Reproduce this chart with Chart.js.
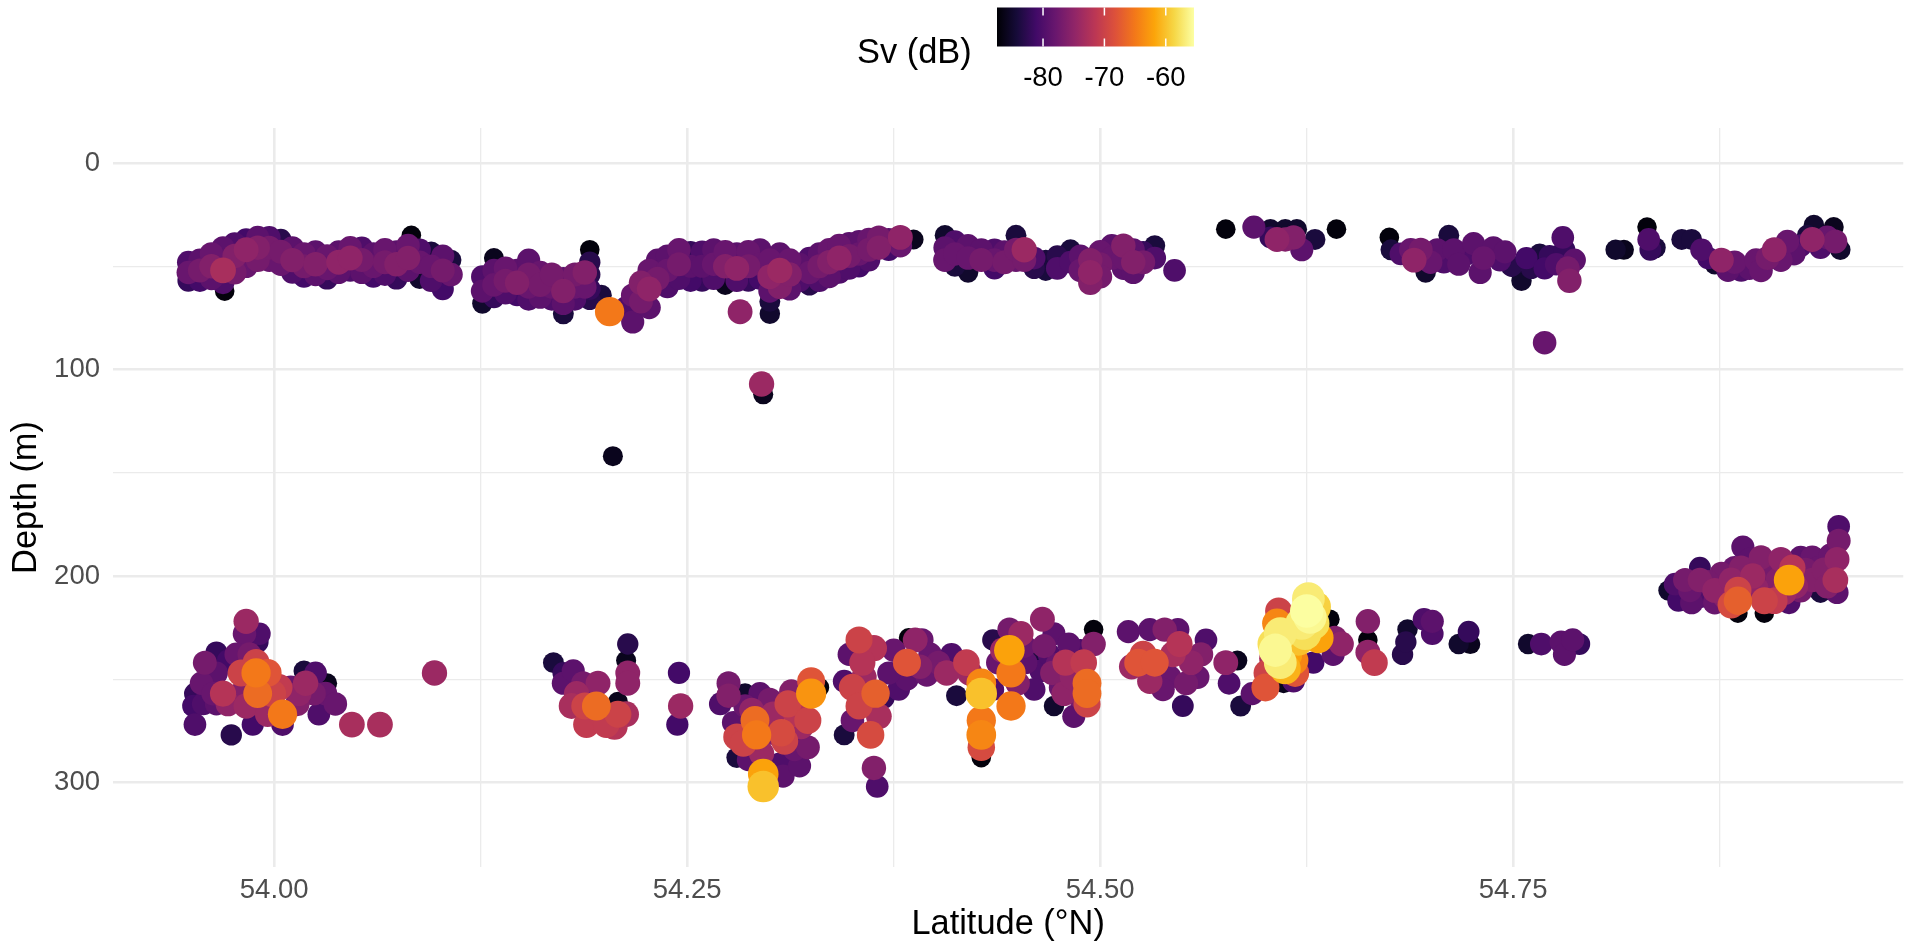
<!DOCTYPE html>
<html>
<head>
<meta charset="utf-8">
<title>Sv along the transect</title>
<script src="https://cdn.jsdelivr.net/npm/chart.js@4.4.0/dist/chart.umd.min.js"></script>
<style>
  html, body { margin: 0; padding: 0; background: #fff; }
  #wrap { width: 1920px; height: 947px; }
</style>
</head>
<body>
<div id="wrap"><canvas id="chart" width="1920" height="947"></canvas></div>
<script>
// Echo detections: latitude (deg N), depth (m) and mean Sv (dB), one entry per school cell
const lat = [
  // shallow layer, 53.95 - 54.11
  53.948, 53.948, 53.948, 53.955, 53.955, 53.955, 53.962, 53.962, 53.962, 53.969, 53.969, 53.969, 53.970,
  53.976, 53.976, 53.976, 53.983, 53.983, 53.983, 53.990, 53.990, 53.990, 53.997, 53.997, 53.997,
  54.004, 54.004, 54.004, 54.011, 54.011, 54.011, 54.018, 54.018, 54.018, 54.025, 54.025, 54.025,
  54.032, 54.032, 54.032, 54.039, 54.039, 54.039, 54.046, 54.046, 54.046, 54.053, 54.053, 54.053,
  54.060, 54.060, 54.060, 54.067, 54.067, 54.067, 54.074, 54.074, 54.074, 54.081, 54.081, 54.081, 54.083,
  54.088, 54.088, 54.088, 54.095, 54.095, 54.095, 54.102, 54.102, 54.102, 54.107, 54.107,
  // shallow layer, 54.12 - 54.23
  54.126, 54.126, 54.126, 54.133, 54.133, 54.133, 54.133, 54.140, 54.140, 54.140, 54.147, 54.147, 54.147,
  54.154, 54.154, 54.154, 54.154, 54.161, 54.161, 54.161, 54.168, 54.168, 54.168, 54.175, 54.175, 54.175, 54.175,
  54.182, 54.182, 54.182, 54.188, 54.188, 54.191, 54.191, 54.191, 54.191, 54.191, 54.198, 54.203, 54.213,
  54.217, 54.217, 54.222, 54.222, 54.227, 54.227, 54.227, 54.232, 54.232,
  // shallow layer, 54.24 - 54.39
  54.238, 54.238, 54.238, 54.245, 54.245, 54.245, 54.252, 54.252, 54.252, 54.259, 54.259, 54.259,
  54.266, 54.266, 54.266, 54.273, 54.273, 54.273, 54.280, 54.280, 54.280, 54.282, 54.287, 54.287, 54.287,
  54.294, 54.294, 54.294, 54.300, 54.300, 54.300, 54.300, 54.300, 54.306, 54.306, 54.306, 54.312, 54.312, 54.312,
  54.318, 54.318, 54.324, 54.324, 54.324, 54.330, 54.330, 54.330, 54.336, 54.336, 54.336, 54.342, 54.342, 54.342,
  54.348, 54.348, 54.348, 54.354, 54.354, 54.354, 54.360, 54.360, 54.360, 54.366, 54.366, 54.372, 54.372,
  54.379, 54.379, 54.387,
  // shallow layer, 54.40 - 54.55
  54.406, 54.406, 54.406, 54.412, 54.412, 54.412, 54.420, 54.420, 54.420, 54.428, 54.428, 54.436, 54.436, 54.436,
  54.442, 54.442, 54.449, 54.449, 54.449, 54.454, 54.454, 54.460, 54.460, 54.467, 54.467, 54.474, 54.474,
  54.482, 54.482, 54.488, 54.488, 54.494, 54.494, 54.494, 54.500, 54.500, 54.500, 54.507, 54.507,
  54.514, 54.514, 54.514, 54.520, 54.520, 54.520, 54.526, 54.526, 54.533, 54.533, 54.545,
  // shallow layer, 54.57 - 54.64
  54.576, 54.593, 54.603, 54.603, 54.607, 54.612, 54.612, 54.617, 54.619, 54.622, 54.630, 54.643,
  // shallow layer, 54.67 - 54.79
  54.675, 54.676, 54.682, 54.688, 54.690, 54.694, 54.697, 54.700, 54.704, 54.708,
  54.711, 54.714, 54.717, 54.722, 54.726, 54.730, 54.732, 54.738, 54.742, 54.745,
  54.749, 54.755, 54.758, 54.761, 54.766, 54.769, 54.772, 54.776, 54.780, 54.781,
  54.783, 54.784, 54.787,
  // shallow layer, 54.81 - 54.95
  54.812, 54.817, 54.831, 54.832, 54.833, 54.836, 54.852, 54.858, 54.864, 54.868,
  54.872, 54.876, 54.880, 54.884, 54.888, 54.893, 54.897, 54.900, 54.904, 54.908,
  54.912, 54.916, 54.920, 54.924, 54.928, 54.931, 54.932, 54.936, 54.940, 54.944,
  54.945, 54.948,
  // single cells below the shallow layer
  54.205, 54.295, 54.296, 54.769,
  // deep layer, 53.95 - 54.10
  53.983, 53.952, 53.974, 53.987, 54.005, 54.047, 54.064, 54.097, 53.958, 53.965,
  53.972, 53.990, 53.991, 53.982, 53.977, 53.985, 53.989, 53.980, 53.996, 53.989,
  53.990, 53.999, 54.005, 53.956, 53.952, 53.957, 53.963, 53.969, 53.972, 53.965,
  53.980, 53.983, 53.987, 53.996, 54.010, 54.003, 54.018, 54.019, 54.025, 54.032,
  54.024, 54.031, 54.037, 54.027, 54.014, 54.015, 53.965, 53.951,
  // deep layer, 54.17 - 54.25
  54.169, 54.175, 54.181, 54.175, 54.183, 54.188, 54.195, 54.189, 54.201, 54.208,
  54.206, 54.196, 54.208, 54.187, 54.180, 54.214, 54.213, 54.214, 54.214, 54.213,
  54.245, 54.246, 54.244,
  // deep layer, 54.27 - 54.33
  54.275, 54.275, 54.285, 54.294, 54.278, 54.280, 54.280, 54.291, 54.292, 54.284,
  54.307, 54.309, 54.295, 54.296, 54.296, 54.308, 54.311, 54.325, 54.325, 54.323,
  54.323, 54.330, 54.302, 54.315, 54.285, 54.302, 54.319, 54.287, 54.306, 54.316,
  54.270, 54.289, 54.300, 54.313, 54.318,
  // deep layer, 54.34 - 54.42
  54.345, 54.350, 54.354, 54.363, 54.364, 54.361, 54.363, 54.365, 54.348, 54.354,
  54.369, 54.375, 54.383, 54.388, 54.392, 54.384, 54.383, 54.397, 54.407, 54.413,
  54.419, 54.345, 54.350, 54.357, 54.402, 54.391,
  54.372, 54.378, 54.395, 54.410, 54.356, 54.366,
  // deep layer, 54.42 - 54.50
  54.428, 54.428, 54.428, 54.428, 54.428, 54.428, 54.421, 54.435, 54.441, 54.445,
  54.446, 54.446, 54.445, 54.452, 54.465, 54.472, 54.459, 54.464, 54.471, 54.472,
  54.479, 54.478, 54.484, 54.492, 54.492, 54.492, 54.496, 54.496, 54.490, 54.438,
  54.454, 54.469, 54.476, 54.483, 54.435,
  54.455, 54.460, 54.466, 54.474, 54.487, 54.481, 54.450, 54.488,
  // deep layer, 54.51 - 54.59
  54.517, 54.523, 54.533, 54.526, 54.530, 54.539, 54.547, 54.548, 54.542, 54.550,
  54.555, 54.564, 54.561, 54.538, 54.576, 54.583, 54.578, 54.585, 54.592, 54.519,
  54.530, 54.552, 54.559, 54.544,
  // deep layer, 54.60 - 54.67
  54.601, 54.600, 54.608, 54.607, 54.605, 54.609, 54.611, 54.625, 54.622, 54.620,
  54.617, 54.617, 54.629, 54.632, 54.639, 54.642, 54.646, 54.629, 54.641, 54.662,
  54.662, 54.662, 54.666, 54.626, 54.613, 54.615, 54.618, 54.604,
  54.606, 54.609, 54.627, 54.624, 54.630, 54.612,
  // deep layer, 54.68 - 54.79
  54.683, 54.685, 54.686, 54.696, 54.701, 54.701, 54.717, 54.723, 54.724, 54.759,
  54.767, 54.779, 54.781, 54.786, 54.790,
  // deep layer, 54.84 - 54.95
  54.844, 54.850, 54.854, 54.863, 54.863, 54.872, 54.872, 54.882, 54.886, 54.886,
  54.886, 54.889, 54.888, 54.900, 54.902, 54.902, 54.917, 54.917, 54.919, 54.910,
  54.931, 54.933, 54.936, 54.945, 54.946, 54.947, 54.947, 54.946, 54.924, 54.912,
  54.905, 54.857, 54.876, 54.895, 54.931, 54.938, 54.864, 54.893, 54.924,
  54.848, 54.858, 54.868, 54.878, 54.884, 54.897, 54.907, 54.914, 54.921, 54.927,
  54.935, 54.940, 54.942, 54.882, 54.908
];

const depth = [
  // shallow layer, 53.95 - 54.11
  48, 53, 57, 47, 52, 57, 44, 50, 56, 41, 52, 58, 62,
  39, 45, 53, 37, 42, 50, 36, 41, 47, 36, 41, 47,
  37, 43, 49, 41, 47, 53, 44, 50, 55, 43, 49, 54,
  45, 51, 56, 43, 48, 53, 41, 46, 52, 41, 47, 53,
  44, 50, 55, 42, 48, 54, 43, 49, 56, 40, 46, 52, 35,
  42, 48, 56, 43, 50, 57, 45, 52, 61, 47, 54,
  // shallow layer, 54.12 - 54.23
  55, 62, 68, 46, 52, 59, 65, 51, 57, 63, 52, 58, 64,
  47, 54, 60, 66, 53, 59, 65, 54, 60, 66, 56, 62, 68, 73,
  54, 60, 66, 53, 60, 42, 48, 54, 61, 66, 64, 72, 70,
  77, 64, 58, 67, 52, 61, 70, 47, 56,
  // shallow layer, 54.24 - 54.39
  45, 52, 60, 42, 49, 56, 43, 50, 57, 43, 50, 57,
  42, 49, 56, 43, 50, 59, 44, 51, 57, 72, 43, 50, 57,
  42, 49, 56, 47, 55, 62, 67, 73, 44, 52, 60, 47, 54, 61,
  49, 57, 46, 53, 59, 44, 50, 57, 42, 48, 55, 40, 46, 53,
  39, 45, 51, 38, 44, 50, 37, 42, 47, 36, 41, 37, 42,
  36, 40, 37,
  // shallow layer, 54.40 - 54.55
  35, 41, 47, 38, 44, 50, 40, 46, 53, 42, 47, 42, 47, 51,
  43, 48, 35, 42, 47, 42, 47, 46, 51, 47, 52, 45, 51,
  42, 48, 45, 52, 47, 53, 58, 43, 49, 55, 40, 46,
  40, 46, 51, 42, 48, 53, 43, 48, 40, 46, 52,
  // shallow layer, 54.57 - 54.64
  32, 31, 32, 36, 37, 32, 37, 36, 32, 42, 37, 32,
  // shallow layer, 54.67 - 54.79
  36, 42, 44, 42, 47, 42, 53, 48, 42, 48,
  35, 42, 49, 44, 39, 53, 46, 41, 47, 43,
  50, 57, 46, 51, 44, 51, 45, 49, 36, 42,
  51, 57, 47,
  // shallow layer, 54.81 - 54.95
  42, 42, 31, 37, 42, 41, 37, 37, 42, 46,
  49, 47, 52, 48, 52, 51, 47, 52, 46, 42,
  47, 38, 44, 40, 35, 37, 30, 41, 36, 31,
  38, 42,
  // single cells below the shallow layer
  142, 107, 112, 87,
  // deep layer, 53.95 - 54.10
  222, 272, 277, 272, 272, 272, 272, 247, 242, 237,
  241, 232, 228, 228, 238, 238, 242, 247, 247, 247,
  257, 257, 267, 252, 257, 262, 257, 257, 262, 262,
  257, 263, 267, 267, 254, 254, 246, 252, 247, 252,
  257, 257, 262, 267, 262, 257, 247, 263,
  // deep layer, 54.17 - 54.25
  242, 252, 246, 247, 257, 263, 263, 272, 272, 267,
  273, 252, 261, 252, 263, 233, 241, 247, 252, 267,
  247, 263, 272,
  // deep layer, 54.27 - 54.33
  252, 258, 257, 257, 271, 278, 288, 270, 277, 281,
  276, 280, 286, 296, 302, 297, 262, 257, 251, 270,
  283, 254, 267, 284, 263, 276, 273, 289, 291, 267,
  262, 265, 260, 256, 292,
  // deep layer, 54.34 - 54.42
  277, 254, 231, 235, 257, 277, 293, 302, 238, 263,
  259, 236, 242, 231, 231, 230, 250, 238, 247, 258,
  242, 251, 270, 249, 242, 244,
  247, 255, 248, 238, 242, 268,
  // deep layer, 54.42 - 54.50
  252, 257, 270, 277, 283, 288, 247, 231, 236, 236,
  247, 263, 226, 228, 221, 228, 242, 246, 247, 263,
  242, 257, 268, 252, 257, 262, 226, 233, 242, 242,
  234, 238, 254, 249, 255,
  242, 255, 234, 243, 258, 233, 252, 236,
  // deep layer, 54.51 - 54.59
  227, 242, 242, 238, 226, 226, 226, 233, 249, 263,
  242, 231, 238, 255, 242, 241, 252, 263, 257, 244,
  251, 252, 249, 238,
  // deep layer, 54.60 - 54.67
  247, 254, 217, 223, 233, 242, 252, 217, 223, 231,
  241, 251, 223, 230, 221, 230, 233, 242, 238, 222,
  231, 237, 242, 211, 238, 228, 247, 240,
  236, 228, 220, 228, 215, 245,
  // deep layer, 54.68 - 54.79
  238, 232, 226, 221, 222, 228, 233, 227, 233, 233,
  233, 232, 238, 231, 233,
  // deep layer, 54.84 - 54.95
  207, 212, 202, 202, 196, 207, 213, 202, 207, 212,
  218, 186, 196, 191, 212, 218, 202, 213, 196, 202,
  191, 191, 208, 202, 192, 183, 176, 208, 191, 192,
  204, 207, 199, 200, 202, 197, 210, 192, 207,
  204, 213, 203, 210, 196, 206, 196, 208, 205, 197,
  196, 205, 190, 214, 212
];

const sv = [
  // shallow layer, 53.95 - 54.11
  -80, -78, -82, -79, -77, -81, -78, -76, -79, -79, -73, -80, -87,
  -80, -76, -77, -81, -75, -78, -79, -76, -77, -80, -77, -78,
  -83, -77, -78, -79, -76, -80, -78, -77, -81, -79, -76, -79,
  -78, -78, -82, -79, -75, -79, -78, -75, -80, -80, -77, -79,
  -79, -78, -81, -78, -77, -80, -79, -76, -82, -78, -76, -79, -87,
  -80, -78, -85, -84, -78, -80, -79, -77, -81, -84, -78,
  // shallow layer, 54.12 - 54.23
  -80, -79, -85, -86, -79, -78, -82, -78, -77, -80, -79, -76, -81,
  -79, -77, -78, -80, -78, -77, -79, -77, -78, -80, -79, -76, -79, -84,
  -77, -78, -80, -76, -78, -87, -83, -83, -82, -83, -84, -65, -80,
  -79, -78, -76, -77, -78, -75, -79, -79, -77,
  // shallow layer, 54.24 - 54.39
  -79, -78, -80, -78, -77, -80, -82, -79, -81, -80, -79, -82,
  -79, -78, -80, -78, -76, -86, -79, -75, -80, -75, -78, -77, -82,
  -79, -78, -81, -78, -75, -79, -84, -85, -79, -74, -76, -78, -76, -79,
  -79, -80, -80, -78, -83, -79, -77, -80, -78, -76, -79, -78, -75, -80,
  -79, -77, -80, -79, -78, -81, -78, -77, -80, -77, -76, -79, -81,
  -75, -78, -86,
  // shallow layer, 54.40 - 54.55
  -85, -79, -78, -80, -78, -84, -79, -78, -85, -79, -77, -80, -78, -81,
  -79, -77, -84, -77, -78, -74, -77, -80, -83, -84, -84, -83, -80,
  -84, -80, -79, -78, -76, -75, -76, -78, -77, -77, -79, -78,
  -76, -78, -79, -79, -76, -79, -82, -77, -84, -80, -80,
  // shallow layer, 54.57 - 54.64
  -87, -79, -85, -82, -75, -85, -76, -76, -85, -79, -84, -87,
  // shallow layer, 54.67 - 54.79
  -87, -84, -80, -78, -75, -77, -85, -78, -79, -80,
  -84, -79, -79, -80, -79, -79, -78, -79, -80, -79,
  -83, -85, -81, -83, -84, -81, -82, -80, -80, -82,
  -77, -76, -79,
  // shallow layer, 54.81 - 54.95
  -85, -86, -87, -80, -82, -84, -84, -84, -80, -81,
  -85, -75, -79, -78, -80, -79, -78, -78, -77, -75,
  -78, -78, -79, -80, -84, -75, -85, -80, -78, -86,
  -77, -85,
  // single cells below the shallow layer
  -86, -74, -86, -78,
  // deep layer, 53.95 - 54.10
  -74, -80, -83, -81, -80, -73, -73, -74, -77, -82,
  -81, -82, -80, -78, -78, -77, -70, -70, -68, -65,
  -66, -70, -65, -78, -82, -80, -78, -72, -75, -79,
  -76, -74, -87, -74, -78, -71, -84, -74, -80, -86,
  -77, -78, -78, -80, -76, -75, -79, -81,
  // deep layer, 54.17 - 54.25
  -84, -79, -79, -82, -74, -70, -66, -71, -71, -70,
  -72, -75, -86, -77, -73, -83, -86, -75, -75, -73,
  -81, -74, -81,
  // deep layer, 54.27 - 54.33
  -77, -76, -85, -79, -79, -70, -84, -66, -65, -70,
  -69, -70, -74, -62, -60, -79, -70, -63, -68, -70,
  -77, -87, -74, -78, -78, -76, -74, -79, -80, -72,
  -80, -75, -77, -76, -79,
  // deep layer, 54.34 - 54.42
  -84, -70, -70, -72, -67, -69, -76, -80, -79, -70,
  -82, -78, -68, -75, -78, -87, -79, -78, -74, -84,
  -71, -80, -78, -74, -77, -76,
  -79, -80, -78, -80, -72, -73,
  // deep layer, 54.42 - 54.50
  -64, -60, -65, -64, -69, -87, -74, -83, -74, -62,
  -65, -65, -77, -74, -75, -79, -84, -80, -76, -85,
  -72, -75, -79, -66, -66, -70, -87, -76, -71, -78,
  -78, -80, -78, -75, -80,
  -79, -80, -77, -78, -77, -79, -76, -80,
  // deep layer, 54.51 - 54.59
  -79, -68, -68, -70, -79, -76, -79, -72, -78, -82,
  -75, -80, -76, -78, -75, -86, -80, -84, -79, -74,
  -74, -77, -78, -73,
  // deep layer, 54.60 - 54.67
  -70, -68, -70, -64, -58, -57, -86, -55.5, -57, -60,
  -64, -80, -58, -62, -87, -76, -75, -81, -79, -76,
  -87, -75, -71, -57, -62, -66, -68, -73,
  -56, -57, -56, -58, -59, -61,
  // deep layer, 54.68 - 54.79
  -83, -83, -85, -80, -79, -80, -85, -82, -86, -85,
  -80, -79, -79, -79, -82,
  // deep layer, 54.84 - 54.95
  -85, -81, -77, -76, -82, -75, -78, -75, -70, -67,
  -87, -79, -76, -76, -70, -87, -62, -80, -72, -76,
  -78, -87, -84, -73, -75, -77, -80, -79, -79, -75,
  -78, -78, -77, -74, -76, -76, -80, -79, -77,
  -80, -79, -77, -76, -78, -75, -77, -74, -75, -77,
  -78, -76, -78, -69, -71
];

// colour scale limits and legend breaks
const svMin = -87.5;
const svMax = -55.4;
const svBreaks = [-80, -70, -60];

// axis limits and breaks
const latMin = 53.9024, latMax = 54.9861;
const depthMin = -17, depthMax = 341;
const latStep = 0.125, depthStep = 50;

if (lat.length !== depth.length || lat.length !== sv.length) {
  console.warn('length mismatch', lat.length, depth.length, sv.length);
}

// inferno palette stops
const inferno = ['#000004', '#160b39', '#420a68', '#6a176e', '#932667', '#bc3754',
                 '#dd513a', '#f37819', '#fca50a', '#f6d746', '#fcffa4'];

function hexRgb(h) {
  const n = parseInt(h.slice(1), 16);
  return [(n >> 16) & 255, (n >> 8) & 255, n & 255];
}

function svColour(v) {
  let t = (v - svMin) / (svMax - svMin);
  t = Math.max(0, Math.min(1, t)) * (inferno.length - 1);
  const i = Math.min(Math.floor(t), inferno.length - 2);
  const f = t - i;
  const a = hexRgb(inferno[i]), b = hexRgb(inferno[i + 1]);
  const c = a.map((x, k) => Math.round(x + (b[k] - x) * f));
  return `rgb(${c[0]}, ${c[1]}, ${c[2]})`;
}

function svRadius(v) {
  return 9.7 + (v - svMin) * 0.22;
}

// strongest echoes are drawn last so they sit on top
const order = lat.map((_, i) => i).sort((a, b) => sv[a] - sv[b]);
const points = order.map(i => ({ x: lat[i], y: depth[i] }));
const colours = order.map(i => svColour(sv[i]));
const radii = order.map(i => svRadius(sv[i]));

const FONT = "'Liberation Sans', Arial, Helvetica, sans-serif";

function isMajor(v, step) {
  const r = v / step;
  return Math.abs(r - Math.round(r)) < 1e-6;
}

// colour bar legend above the panel
const colourBar = {
  id: 'colourBar',
  afterDraw(chart) {
    const ctx = chart.ctx;
    const x0 = 997, x1 = 1194, y0 = 7.5, y1 = 46.5;
    ctx.save();
    const grad = ctx.createLinearGradient(x0, 0, x1, 0);
    inferno.forEach((c, i) => grad.addColorStop(i / (inferno.length - 1), c));
    ctx.fillStyle = grad;
    ctx.fillRect(x0, y0, x1 - x0, y1 - y0);

    ctx.strokeStyle = '#ffffff';
    ctx.lineWidth = 1.5;
    ctx.font = `27.5px ${FONT}`;
    ctx.fillStyle = '#000000';
    ctx.textAlign = 'center';
    ctx.textBaseline = 'alphabetic';
    svBreaks.forEach(v => {
      const x = x0 + (v - svMin) / (svMax - svMin) * (x1 - x0);
      ctx.beginPath();
      ctx.moveTo(x, y0); ctx.lineTo(x, y0 + 8);
      ctx.moveTo(x, y1 - 8); ctx.lineTo(x, y1);
      ctx.stroke();
      ctx.fillText(String(v), x, 86);
    });

    ctx.font = `34.4px ${FONT}`;
    ctx.textAlign = 'left';
    ctx.fillText('Sv (dB)', 857, 63);
    ctx.restore();
  }
};

const gridColour = '#ebebeb';

new Chart(document.getElementById('chart'), {
  type: 'scatter',
  data: {
    datasets: [{
      data: points,
      pointRadius: radii,
      pointHoverRadius: radii,
      pointBackgroundColor: colours,
      pointBorderWidth: 0,
      pointBorderColor: 'rgba(0,0,0,0)'
    }]
  },
  options: {
    responsive: false,
    animation: false,
    events: [],
    layout: { padding: { top: 128, right: 2, bottom: 0, left: 0 } },
    plugins: {
      legend: { display: false },
      tooltip: { enabled: false }
    },
    scales: {
      x: {
        type: 'linear',
        min: latMin,
        max: latMax,
        border: { display: false },
        grid: {
          color: gridColour,
          drawTicks: false,
          lineWidth: c => isMajor(c.tick.value, 0.25) ? 2.6 : 1.3
        },
        ticks: {
          stepSize: latStep,
          autoSkip: false,
          maxRotation: 0,
          includeBounds: false,
          padding: 7,
          color: '#4d4d4d',
          font: { family: FONT, size: 27.5 },
          callback: v => isMajor(v, 0.25) ? v.toFixed(2) : ''
        },
        title: {
          display: true,
          text: 'Latitude (°N)',
          color: '#000000',
          font: { family: FONT, size: 34.4 },
          padding: { top: 0, bottom: 2 }
        },
        afterFit: s => { s.height = 80; }
      },
      y: {
        type: 'linear',
        reverse: true,
        min: depthMin,
        max: depthMax,
        border: { display: false },
        grid: {
          color: gridColour,
          drawTicks: false,
          lineWidth: c => isMajor(c.tick.value, 100) ? 2.6 : 1.3
        },
        ticks: {
          stepSize: depthStep,
          autoSkip: false,
          includeBounds: false,
          padding: 13,
          color: '#4d4d4d',
          font: { family: FONT, size: 27.5 },
          callback: v => isMajor(v, 100) ? String(v) : ''
        },
        title: {
          display: true,
          text: 'Depth (m)',
          color: '#000000',
          font: { family: FONT, size: 34.4 },
          padding: { top: 6, bottom: 0 }
        },
        afterFit: s => { s.width = 113; }
      }
    }
  },
  plugins: [colourBar]
});
</script>
</body>
</html>
